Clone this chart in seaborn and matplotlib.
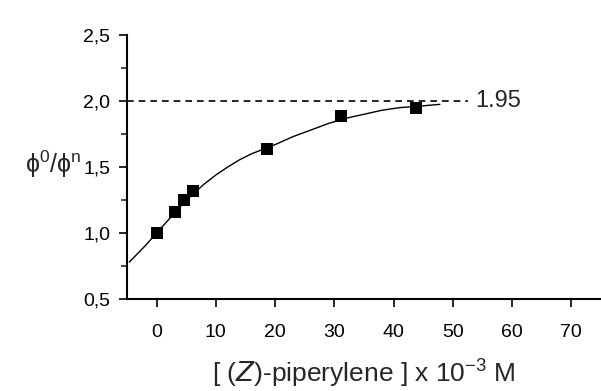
"""
Stern-Volmer type saturation plot: phi0/phin vs (Z)-piperylene concentration
"""

import numpy as np
import pandas as pd
import matplotlib
matplotlib.use("Agg")
import matplotlib.pyplot as plt
import seaborn as sns

# measured points
conc = [0.0, 3.1, 4.7, 6.2, 18.7, 31.2, 43.7]
ratio = [1.00, 1.16, 1.25, 1.32, 1.64, 1.89, 1.95]

# fitted curve
fit_x = [-4.6, -2, 0, 2, 4, 6, 8, 10, 12, 14, 16, 18, 20, 23, 26, 29, 32, 35, 38, 41, 44, 47.8]
fit_y = [0.78, 0.90, 1.00, 1.10, 1.20, 1.29, 1.37, 1.44, 1.50, 1.555, 1.60, 1.635,
         1.67, 1.73, 1.78, 1.83, 1.87, 1.90, 1.93, 1.95, 1.96, 1.975]

# plateau line
plateau_y = 2.0
plateau_end = 52.5
plateau_label = "1.95"

xticks = [0, 10, 20, 30, 40, 50, 60, 70]
yticks = [0.5, 1.0, 1.5, 2.0, 2.5]
ytick_labels = ["0,5", "1,0", "1,5", "2,0", "2,5"]

sns.set_style("ticks")
plt.rcParams["font.family"] = ["Liberation Sans", "DejaVu Sans"]
plt.rcParams["mathtext.default"] = "regular"

points = pd.DataFrame({"conc": conc, "ratio": ratio})
curve = pd.DataFrame({"x": fit_x, "y": fit_y})

fig = plt.figure(figsize=(6.01, 3.91), dpi=100)
ax = fig.add_axes([0.2113, 0.2353, 0.7887, 0.675])

sns.lineplot(data=curve, x="x", y="y", color="black", linewidth=1.0, ax=ax, sort=False)
ax.plot([-5, plateau_end], [plateau_y, plateau_y], color="black", linewidth=1.2,
        dashes=(4, 3))
sns.scatterplot(data=points, x="conc", y="ratio", marker="s", s=85, color="black",
                edgecolor="black", linewidth=0, ax=ax, zorder=5)

ax.text(plateau_end + 1.2, plateau_y, plateau_label, fontsize=17, va="center", ha="left")

ax.set_xlim(-5, 75)
ax.set_ylim(0.5, 2.5)
ax.set_xticks(xticks)
ax.set_xticklabels([str(t) for t in xticks], fontsize=14)
ax.set_yticks(yticks)
ax.set_yticklabels(ytick_labels, fontsize=14)
ax.set_yticks(np.arange(0.75, 2.5, 0.5), minor=True)

ax.tick_params(axis="both", which="major", direction="out", length=6, width=1.2,
               color="black", labelcolor="black")
ax.tick_params(axis="x", which="major", pad=12)
ax.tick_params(axis="y", which="major", pad=6)
ax.tick_params(axis="y", which="minor", direction="out", length=4, width=1.2)

for side in ["top", "right"]:
    ax.spines[side].set_visible(False)
for side in ["left", "bottom"]:
    ax.spines[side].set_linewidth(1.5)
    ax.spines[side].set_color("black")

ax.set_xlabel(r"[ ($\mathit{Z}$)-piperylene ] x 10$^{-3}$ M", fontsize=19, labelpad=12)
ax.set_ylabel("ϕ$^{0}$/ϕ$^{n}$", fontsize=18, rotation=0, ha="center", va="center")
ax.yaxis.set_label_coords(-0.156, 0.51)

fig.savefig("out.png", dpi=100)
plt.close(fig)
